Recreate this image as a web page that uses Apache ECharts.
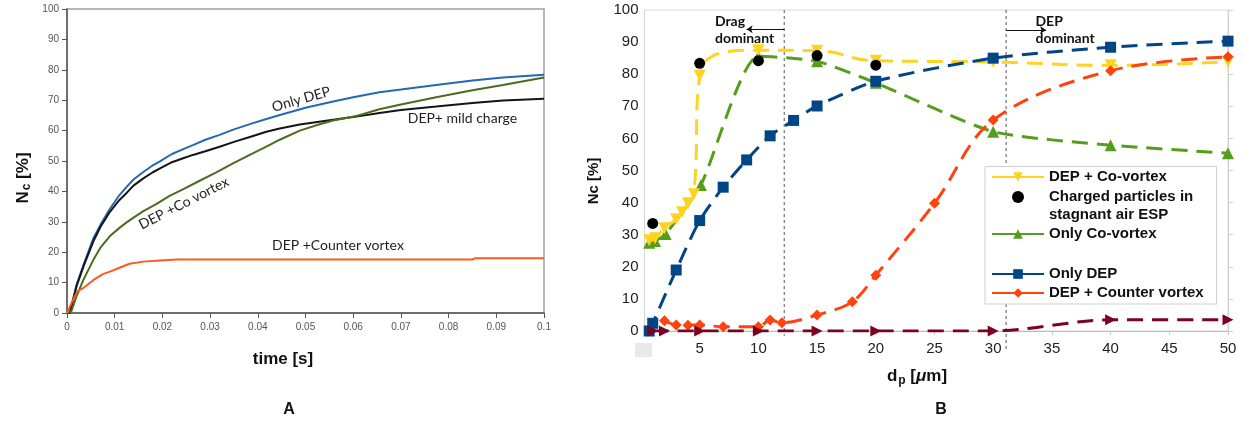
<!DOCTYPE html>
<html>
<head>
<meta charset="utf-8">
<script src="https://cdn.jsdelivr.net/npm/echarts@6/dist/echarts.min.js"></script>
<style>
  html, body { margin: 0; padding: 0; background: #fff; }
  #chart { width: 1244px; height: 425px; }
</style>
</head>
<body>
<div id="chart"></div>
<script>
// ---------- Panel A: collected fraction N_c over time ----------
const onlyDepTime = [[0,0],[0.0006,0],[0.002,9.3],[0.0035,16],[0.0055,24.5],[0.007,29],[0.009,34.3],[0.011,38.8],[0.0125,41.5],[0.014,44],[0.016,46.4],[0.018,48.6],[0.0194,49.8],[0.022,52.3],[0.0245,54],[0.0264,55.2],[0.029,57],[0.032,58.6],[0.035,60.4],[0.0385,62.2],[0.0418,63.8],[0.045,65.3],[0.05,67.5],[0.0558,69.6],[0.06,71],[0.0655,72.6],[0.07,73.5],[0.0774,75],[0.085,76.5],[0.0914,77.5],[0.1,78.4]];
const mildChargeTime = [[0,0],[0.0006,0],[0.002,8.8],[0.0035,15.5],[0.0055,23.5],[0.007,28.3],[0.009,33.3],[0.011,37.2],[0.0125,39.5],[0.014,42],[0.016,44.3],[0.018,46.3],[0.0194,47.5],[0.022,49.6],[0.0245,51],[0.0264,52],[0.029,53.2],[0.032,54.7],[0.035,56.3],[0.0385,58],[0.0418,59.6],[0.0446,60.7],[0.0488,62],[0.0558,63.6],[0.0607,64.6],[0.0655,65.8],[0.07,66.8],[0.0774,67.9],[0.085,69.1],[0.0914,69.9],[0.1,70.5]];
const coVortexTime = [[0,0],[0.0009,0.5],[0.002,5.5],[0.0034,10.8],[0.0055,17.4],[0.007,21.5],[0.009,25.3],[0.011,28],[0.0125,29.8],[0.0138,31.2],[0.016,33.5],[0.0187,35.8],[0.0215,38.5],[0.0245,40.8],[0.0278,43.5],[0.031,46],[0.0348,49.2],[0.038,51.8],[0.0418,54.7],[0.0446,57],[0.0488,60],[0.0528,62],[0.0558,63.3],[0.0607,64.8],[0.0655,67],[0.07,68.6],[0.0774,71],[0.085,73.3],[0.0914,75],[0.1,77.5]];
const counterVortexTime = [[0,0],[0.001,3.5],[0.0022,7.2],[0.0035,8.3],[0.0055,10.8],[0.0075,12.8],[0.009,13.6],[0.011,14.9],[0.0131,16.2],[0.016,16.9],[0.0194,17.3],[0.023,17.6],[0.05,17.6],[0.085,17.6],[0.0855,18],[0.1,18]];

// ---------- Panel B: N_c versus particle diameter d_p ----------
const depCoVortex = [[0.7,28.3],[1.2,28.9],[2,32],[3,34.8],[3.5,37],[4,39.8],[4.5,42.6],[5,79.5],[10,87.5],[15,87.3],[20,84.2],[30,83.8],[40,82.8],[50,83.9]];
const chargedStagnant = [[1,33.5],[5,83.4],[10,84.2],[15,85.8],[20,82.8]];
const onlyCoVortex = [[0.7,27.5],[1.2,28],[2.1,30.2],[5.1,45.5],[10,85.6],[15,84],[20,77.3],[30,62.1],[40,57.9],[50,55.4]];
const onlyDep = [[0.7,0],[1,2.4],[3,19],[5,34.4],[7,44.8],[9,53.3],[11,60.8],[13,65.6],[15,70.1],[20,77.8],[30,85],[40,88.4],[50,90.3]];
const depCounterVortex = [[2,3.2],[3,1.9],[4,1.8],[5,1.9],[7,1.3],[10,1.3],[11,3.4],[12,2.6],[15,5],[18,9.1],[20,17.4],[25,39.8],[30,65.7],[40,81.1],[50,85.4]];
const depBaseline = [[1,0],[2,0],[5,0],[10,0],[15,0],[20,0],[30,0],[40,3.5],[50,3.5]];
const dpTicks = [5, 10, 15, 20, 25, 30, 35, 40, 45, 50];
const regimeBounds = [12.2, 31.1];

const CHARGED = 'Charged particles in stagnant air ESP';

// Text placed along the curves (data coordinates, rotation in degrees)
const curveNotes = [
  { text: 'Only DEP', at: [0.0491, 70.3], angle: 16 },
  { text: 'DEP+ mild charge', at: [0.0829, 63.9], angle: 0 },
  { text: 'DEP +Co vortex', at: [0.0245, 36.1], angle: 27 },
  { text: 'DEP +Counter vortex', at: [0.0568, 22.3], angle: 0 }
];
const regimeNotes = [
  { text: 'Drag\ndominant', at: [6.3, 99] },
  { text: 'DEP\ndominant', at: [33.6, 99] }
];
const regimeArrows = [
  [[12.2, 94], [9.0, 94]],
  [[31.1, 93.8], [34.5, 93.8]]
];
// how far below the d_p axis each regime boundary line reaches (in % units)
const boundaryReach = [-1.5, -6.5];

const chart = echarts.init(document.getElementById('chart'), null, { renderer: 'canvas' });

const dashB = [16, 9];
function bSeries(name, data, color, symbol, size, rotate, z, smooth) {
  return {
    name, type: 'line', xAxisIndex: 1, yAxisIndex: 1, data,
    smooth: smooth,
    symbol, symbolSize: size, symbolRotate: rotate, showSymbol: true,
    lineStyle: { color, width: 3, type: dashB },
    itemStyle: { color, borderWidth: 0, opacity: 1 },
    z, silent: true
  };
}
function aSeries(name, data, color) {
  return {
    name, type: 'line', xAxisIndex: 0, yAxisIndex: 0, data,
    showSymbol: false, symbol: 'none',
    lineStyle: { color, width: 2 }, silent: true, z: 2
  };
}

const legendText = { fontFamily: 'Liberation Sans', fontWeight: 'bold', fontSize: 15, color: '#111', lineHeight: 18 };
function legendBlock(top, names, gap) {
  return {
    left: 991, top, orient: 'vertical', padding: 0, itemGap: gap,
    itemWidth: 52, itemHeight: 12, selectedMode: false,
    lineStyle: { type: 'solid', width: 2 },
    textStyle: legendText,
    formatter: n => n === CHARGED ? 'Charged particles in' : n,
    data: names, z: 6
  };
}

const option = {
  animation: false,
  backgroundColor: '#fff',
  grid: [
    { left: 67, top: 9, width: 477, height: 304, show: true, borderColor: '#a0a0a0', borderWidth: 1.5, backgroundColor: 'transparent' },
    { left: 644.5, top: 10, width: 583.5, height: 321, show: true, borderColor: '#d6d6d6', borderWidth: 1, backgroundColor: 'transparent' }
  ],
  xAxis: [
    {
      gridIndex: 0, type: 'value', min: 0, max: 0.1, interval: 0.01,
      axisLine: { show: true, lineStyle: { color: '#555', width: 1.5 } },
      axisTick: { show: true, length: 5, lineStyle: { color: '#555' } },
      axisLabel: { fontFamily: 'Liberation Sans', fontSize: 10, color: '#555', margin: 9,
        formatter: v => v === 0 ? '0' : String(+v.toFixed(2)) },
      splitLine: { show: false }
    },
    {
      gridIndex: 1, type: 'value', min: 0.3, max: 50,
      axisLine: { show: true, lineStyle: { color: '#bcbcbc', width: 1 } },
      axisTick: { show: true, length: 4, customValues: dpTicks, lineStyle: { color: '#c8c8c8' } },
      axisLabel: { customValues: dpTicks, fontFamily: 'Liberation Sans', fontSize: 15, color: '#222', margin: 10 },
      splitLine: { show: false }
    }
  ],
  yAxis: [
    {
      gridIndex: 0, type: 'value', min: 0, max: 100, interval: 10,
      axisLine: { show: true, lineStyle: { color: '#555', width: 1.5 } },
      axisTick: { show: true, length: 5, lineStyle: { color: '#555' } },
      axisLabel: { fontFamily: 'Liberation Sans', fontSize: 10, color: '#555', margin: 8 },
      splitLine: { show: false }
    },
    {
      gridIndex: 1, type: 'value', min: 0, max: 100, interval: 10,
      axisLine: { show: true, lineStyle: { color: '#d6d6d6' } },
      axisTick: { show: false },
      axisLabel: { fontFamily: 'Liberation Sans', fontSize: 15, color: '#222', margin: 6 },
      splitLine: { show: false }
    },
    {
      gridIndex: 1, type: 'value', position: 'right', min: 0, max: 100, interval: 10,
      axisLine: { show: true, lineStyle: { color: '#cfcfcf' } },
      axisTick: { show: true, length: 5, lineStyle: { color: '#cfcfcf' } },
      axisLabel: { show: false },
      splitLine: { show: false }
    }
  ],
  legend: [
    legendBlock(168, ['DEP + Co-vortex', CHARGED], 2),
    legendBlock(225, ['Only Co-vortex'], 2),
    legendBlock(265, ['Only DEP', 'DEP + Counter vortex'], 1)
  ],
  series: [
    aSeries('A Only DEP', onlyDepTime, '#2468b4'),
    aSeries('A DEP+ mild charge', mildChargeTime, '#141414'),
    aSeries('A DEP +Co vortex', coVortexTime, '#4c6b1f'),
    aSeries('A DEP +Counter vortex', counterVortexTime, '#ff5a1e'),

    bSeries('Only Co-vortex', onlyCoVortex, '#579d1c', 'triangle', 12, 0, 2, 0.2),
    bSeries('DEP + Co-vortex', depCoVortex, '#ffd320', 'triangle', 12, 180, 3, 0.5),
    bSeries('DEP + Counter vortex', depCounterVortex, '#ff420e', 'diamond', 11, 0, 3, 0.35),
    bSeries('Only DEP', onlyDep, '#004586', 'rect', 11, 0, 4, 0.25),
    bSeries('DEP baseline', depBaseline, '#7e0021', 'triangle', 11, -90, 4, 0.3),
    {
      name: 'regime arrows', type: 'line', xAxisIndex: 1, yAxisIndex: 1, data: [],
      clip: false, silent: true,
      markLine: {
        silent: true, symbol: ['none', 'arrow'], symbolSize: 6,
        label: { show: false },
        lineStyle: { color: '#111', width: 1, type: 'solid' },
        data: regimeArrows.map(([a, b]) => [{ coord: a }, { coord: b }])
      }
    },
    {
      name: CHARGED, type: 'scatter', xAxisIndex: 1, yAxisIndex: 1, data: chargedStagnant,
      symbol: 'circle', symbolSize: 11, itemStyle: { color: '#000', opacity: 1 }, z: 5, silent: true
    }
  ]
};
chart.setOption(option);

// Annotations, boundary lines, titles and panel letters
const g = [];
curveNotes.forEach(n => {
  const [x, y] = chart.convertToPixel({ gridIndex: 0 }, n.at);
  g.push({
    type: 'text', x, y, rotation: n.angle * Math.PI / 180, z: 10,
    style: { text: n.text, font: '14px Lato', fill: '#1e1e1e', align: 'center', verticalAlign: 'middle' }
  });
});
regimeNotes.forEach(n => {
  const [x, y] = chart.convertToPixel({ gridIndex: 1 }, n.at);
  g.push({
    type: 'text', x, y, z: 10,
    style: { text: n.text, font: 'bold 14px Lato', fill: '#111', align: 'left', verticalAlign: 'top', lineHeight: 17 }
  });
});
regimeBounds.forEach((b, i) => {
  const [x1, y1] = chart.convertToPixel({ gridIndex: 1 }, [b, 100]);
  const [x2, y2] = chart.convertToPixel({ gridIndex: 1 }, [b, boundaryReach[i]]);
  g.push({
    type: 'line', z: 1,
    shape: { x1, y1, x2, y2 },
    style: { stroke: '#555', lineWidth: 1, lineDash: [3, 3] }
  });
});

const boldTitle = (text, x, y, size, rotation) => ({
  type: 'text', x, y, rotation: rotation || 0, z: 10,
  style: { text, font: `bold ${size}px "Liberation Sans"`, fill: '#111', align: 'center', verticalAlign: 'middle' }
});
g.push({
  type: 'text', x: 23, y: 178, rotation: Math.PI / 2, z: 10,
  style: {
    text: '{b|N}{s|c}{b| [%]}', align: 'center', verticalAlign: 'middle',
    rich: {
      b: { font: 'bold 17px "Liberation Sans"', fill: '#111' },
      s: { font: 'bold 12px "Liberation Sans"', fill: '#111', padding: [8, 0, 0, 1] }
    }
  }
});
g.push(boldTitle('time [s]', 283, 359, 17));
g.push(boldTitle('A', 289, 410, 16));
g.push(boldTitle('Nc [%]', 594, 181, 15, Math.PI / 2));
g.push({
  type: 'text', x: 917, y: 376, z: 10,
  style: {
    text: '{b|d}{s|p}{b| [}{i|μ}{b|m]}', align: 'center', verticalAlign: 'middle',
    rich: {
      b: { font: 'bold 17px "Liberation Sans"', fill: '#111' },
      i: { font: 'italic bold 17px "Liberation Sans"', fill: '#111' },
      s: { font: 'bold 12px "Liberation Sans"', fill: '#111', padding: [9, 0, 0, 1] }
    }
  }
});
g.push(boldTitle('B', 941, 410, 16));
// second line of the "charged particles" legend entry
g.push({
  type: 'text', x: 1049, y: 215, z: 10,
  style: { text: 'stagnant air ESP', font: 'bold 15px "Liberation Sans"', fill: '#111', align: 'left', verticalAlign: 'middle' }
});
// small shaded cell beneath the origin of panel B
g.push({ type: 'rect', shape: { x: 635, y: 343, width: 17, height: 14 }, style: { fill: '#e9e9e9' }, z: 1 });
// legend frame
g.push({ type: 'rect', shape: { x: 985, y: 166.5, width: 231.5, height: 137.5 }, style: { fill: '#fff', stroke: '#cfcfcf', lineWidth: 1 }, z: 5 });

chart.setOption({ graphic: { elements: g } });
</script>
</body>
</html>
